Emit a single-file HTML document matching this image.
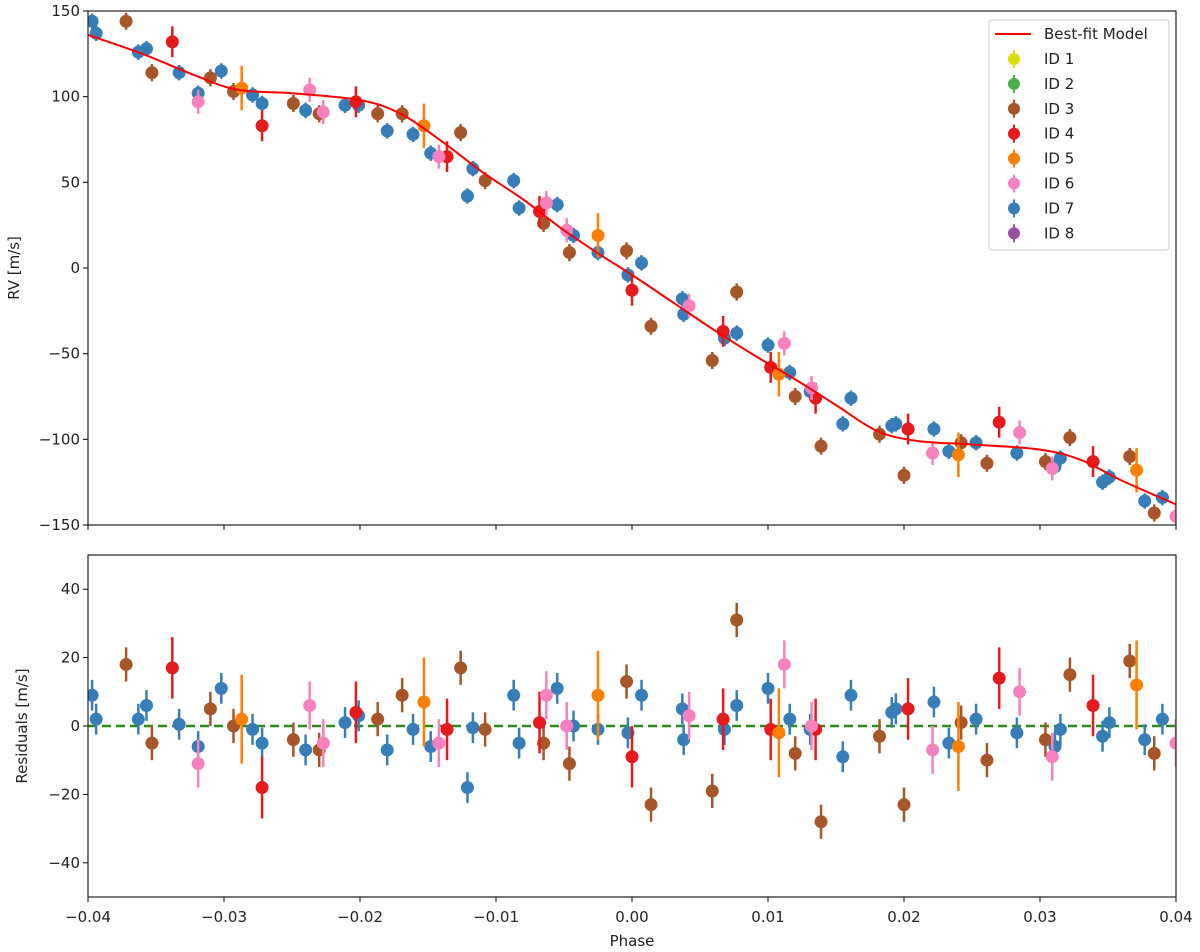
<!DOCTYPE html>
<html><head><meta charset="utf-8"><style>
body{margin:0;background:#fff;}
svg{display:block;font-family:"DejaVu Sans","Liberation Sans",sans-serif;}
</style></head><body>
<svg id="chart" width="1200" height="952" xmlns="http://www.w3.org/2000/svg"></svg>
<script>
// ---- data ----
const blueX=[-0.0397,-0.0394,-0.0363,-0.0357,-0.0333,-0.0319,-0.0302,-0.0279,-0.0272,-0.0240,-0.0211,-0.0201,-0.0180,-0.0161,-0.0148,-0.0121,-0.0117,-0.0087,-0.0083,-0.0055,-0.0043,-0.0025,-0.0003,0.0007,0.0037,0.0038,0.0068,0.0077,0.0100,0.0116,0.0131,0.0155,0.0161,0.0191,0.0194,0.0222,0.0233,0.0253,0.0283,0.0311,0.0315,0.0346,0.0351,0.0377,0.0390];
const blueRV=[144,137,126,128,114,102,115,101,96,92,95,95,80,78,67,42,58,51,35,37,19,9,-4,3,-18,-27,-41,-38,-45,-61,-72,-91,-76,-92,-91,-94,-107,-102,-108,-116,-111,-125,-122,-136,-134];
const blueRes=[9,2,2,6,0.5,-6,11,-1,-5,-7,1,3,-7,-1,-6,-18,-0.5,9,-5,11,0,-1,-2,9,5,-4,-1,6,11,2,-1,-9,9,4,5,7,-5,2,-2,-6,-1,-3,1,-4,2];
const brownX=[-0.0372,-0.0353,-0.0310,-0.0293,-0.0249,-0.0230,-0.0187,-0.0169,-0.0126,-0.0108,-0.0065,-0.0046,-0.0004,0.0014,0.0059,0.0077,0.0120,0.0139,0.0182,0.0200,0.0242,0.0261,0.0304,0.0322,0.0366,0.0384];
const brownRV=[144,114,111,103,96,90,90,90,79,51,26,9,10,-34,-54,-14,-75,-104,-97,-121,-102,-114,-113,-99,-110,-143];
const brownRes=[18,-5,5,0,-4,-7,2,9,17,-1,-5,-11,13,-23,-19,31,-8,-28,-3,-23,1,-10,-4,15,19,-8];
const redX=[-0.0338,-0.0272,-0.0203,-0.0136,-0.0068,0.0000,0.0067,0.0102,0.0135,0.0203,0.0270,0.0339];
const redRV=[132,83,97,65,33,-13,-37,-58,-76,-94,-90,-113];
const redRes=[17,-18,4,-1,1,-9,2,-1,-1,5,14,6];
const orangeX=[-0.0287,-0.0153,-0.0025,0.0108,0.0240,0.0371];
const orangeRV=[105,83,19,-62,-109,-118];
const orangeRes=[2,7,9,-2,-6,12];
const pinkX=[-0.0319,-0.0237,-0.0227,-0.0142,-0.0063,-0.0048,0.0042,0.0112,0.0132,0.0221,0.0285,0.0309,0.0400];
const pinkRV=[97,104,91,65,38,22,-22,-44,-70,-108,-96,-117,-145];
const pinkRes=[-11,6,-5,-5,9,0,3,18,0,-7,10,-9,-5];
const modelX=[-0.040,-0.036,-0.032,-0.029,-0.025,-0.020,-0.017,-0.014,-0.011,-0.008,-0.005,-0.002,0.000,0.003,0.006,0.009,0.012,0.015,0.018,0.021,0.025,0.030,0.033,0.036,0.040];
const modelY=[136,125,112,104,102,98,90,74,56,40,22,6,-4,-20,-36,-51,-65,-80,-95,-101,-103,-106,-112,-124,-138];
const xTicks=[-0.04,-0.03,-0.02,-0.01,0.00,0.01,0.02,0.03,0.04];
const xTickLabels=["−0.04","−0.03","−0.02","−0.01","0.00","0.01","0.02","0.03","0.04"];
const rvTicks=[150,100,50,0,-50,-100,-150];
const resTicks=[40,20,0,-20,-40];
const legendLabels=["ID 1","ID 2","ID 3","ID 4","ID 5","ID 6","ID 7","ID 8"];

const svg=document.getElementById('chart');
const NS="http://www.w3.org/2000/svg";
function mk(tag,attrs,parent){const e=document.createElementNS(NS,tag);for(const k in attrs)e.setAttribute(k,attrs[k]);(parent||svg).appendChild(e);return e;}
const L=88,R=1176;
const X=v=>L+(v+0.04)/0.08*(R-L);
const T1=11,B1=525; const Y1=v=>T1+(150-v)/300*(B1-T1);
const T2=555,B2=897; const Y2=v=>T2+(50-v)/100*(B2-T2);
const col={y:"#dddd00",g:"#4daf4a",br:"#a65628",r:"#e41a1c",o:"#ff7f00",p:"#f781bf",b:"#377eb8",pu:"#984ea3"};
const FS=15;

// frames & ticks
[[T1,B1,Y1,rvTicks,'rv'],[T2,B2,Y2,resTicks,'res']].forEach(([t,b,Y,ticks,nm])=>{
  xTicks.forEach(v=>{let l=mk('line',{x1:X(v),x2:X(v),y1:b,y2:b+5,stroke:'#000','stroke-width':1});
    });
  ticks.forEach(v=>{let l=mk('line',{x1:L-5,x2:L,y1:Y(v),y2:Y(v),stroke:'#000','stroke-width':1});
    
    let tx=mk('text',{x:L-8,y:Y(v)+5,'text-anchor':'end','font-size':FS,fill:'#222'});
    tx.textContent=String(v).replace('-','−');
    });
});
xTicks.forEach((v,i)=>{let tx=mk('text',{x:X(v),y:922,'text-anchor':'middle','font-size':FS,fill:'#222'});
  tx.textContent=xTickLabels[i];});
let t;
t=mk('text',{x:632,y:946,'text-anchor':'middle','font-size':FS,fill:'#222'});t.textContent='Phase';

t=mk('text',{x:19,y:268,'text-anchor':'middle','font-size':FS,fill:'#222',transform:'rotate(-90 19 268)'});t.textContent='RV [m/s]';

t=mk('text',{x:27,y:726,'text-anchor':'middle','font-size':FS,fill:'#222',transform:'rotate(-90 27 726)'});t.textContent='Residuals [m/s]';


// zero line
let z=mk('line',{x1:L,x2:R,y1:Y2(0),y2:Y2(0),stroke:'#2a8a1a','stroke-width':2.5,'stroke-dasharray':'9,5'});


// points
const groups=[[blueX,blueRV,blueRes,col.b,4.5,'id7'],[brownX,brownRV,brownRes,col.br,5,'id3'],[redX,redRV,redRes,col.r,9,'id4'],[orangeX,orangeRV,orangeRes,col.o,13,'id5'],[pinkX,pinkRV,pinkRes,col.p,7,'id6']];
const clipTop=mk('clipPath',{id:'c1'});mk('rect',{x:L,y:T1,width:R-L,height:B1-T1},clipTop);
const clipBot=mk('clipPath',{id:'c2'});mk('rect',{x:L,y:T2,width:R-L,height:B2-T2},clipBot);
const g1=mk('g',{'clip-path':'url(#c1)'});const g2=mk('g',{'clip-path':'url(#c2)'});
groups.forEach(([xs,rv,res,c,err,nm])=>{
  xs.forEach((v,i)=>{
    [[g1,Y1,rv[i],'rv'],[g2,Y2,res[i],'residual']].forEach(([g,Y,val,p])=>{
      let l=mk('line',{x1:X(v),x2:X(v),y1:Y(val+err),y2:Y(val-err),stroke:c,'stroke-width':2.5},g);
      
      let ci=mk('circle',{cx:X(v),cy:Y(val),r:6.5,fill:c},g);
      
    });
  });
});
// model (Catmull-Rom smoothed)
const P=modelX.map((v,i)=>[X(v),Y1(modelY[i])]);
let d='M'+P[0][0].toFixed(1)+','+P[0][1].toFixed(1);
for(let i=0;i<P.length-1;i++){
  const p0=P[Math.max(0,i-1)],p1=P[i],p2=P[i+1],p3=P[Math.min(P.length-1,i+2)];
  const c1=[p1[0]+(p2[0]-p0[0])/6,p1[1]+(p2[1]-p0[1])/6];
  const c2=[p2[0]-(p3[0]-p1[0])/6,p2[1]-(p3[1]-p1[1])/6];
  d+=' C'+c1.map(n=>n.toFixed(1)).join(',')+' '+c2.map(n=>n.toFixed(1)).join(',')+' '+p2.map(n=>n.toFixed(1)).join(',');
}
let m=mk('path',{d:d,fill:'none',stroke:'#ff0000','stroke-width':2,'stroke-linejoin':'round'},g1);


// frames
let f1=mk('rect',{x:L,y:T1,width:R-L,height:B1-T1,fill:'none',stroke:'#222','stroke-width':1.2});

let f2=mk('rect',{x:L,y:T2,width:R-L,height:B2-T2,fill:'none',stroke:'#222','stroke-width':1.2});


// legend
const lg=mk('g',{});
mk('rect',{x:989,y:20,width:180,height:230,rx:3,fill:'#fff','fill-opacity':0.85,stroke:'#ccc'},lg);
let ll=mk('line',{x1:995,x2:1031,y1:34,y2:34,stroke:'#ff0000','stroke-width':2},lg);

let lt=mk('text',{x:1044,y:39,'font-size':FS,fill:'#222'},lg);lt.textContent='Best-fit Model';

const lc=[col.y,col.g,col.br,col.r,col.o,col.p,col.b,col.pu];
legendLabels.forEach((s,i)=>{const y=59+i*24.9;
  let c=mk('circle',{cx:1014,cy:y,r:6,fill:lc[i]},lg);mk('line',{x1:1014,x2:1014,y1:y-9,y2:y+9,stroke:lc[i],'stroke-width':2},lg);
  
  let tx=mk('text',{x:1044,y:y+5,'font-size':FS,fill:'#222'},lg);tx.textContent=s;
  });
</script>
</body></html>
